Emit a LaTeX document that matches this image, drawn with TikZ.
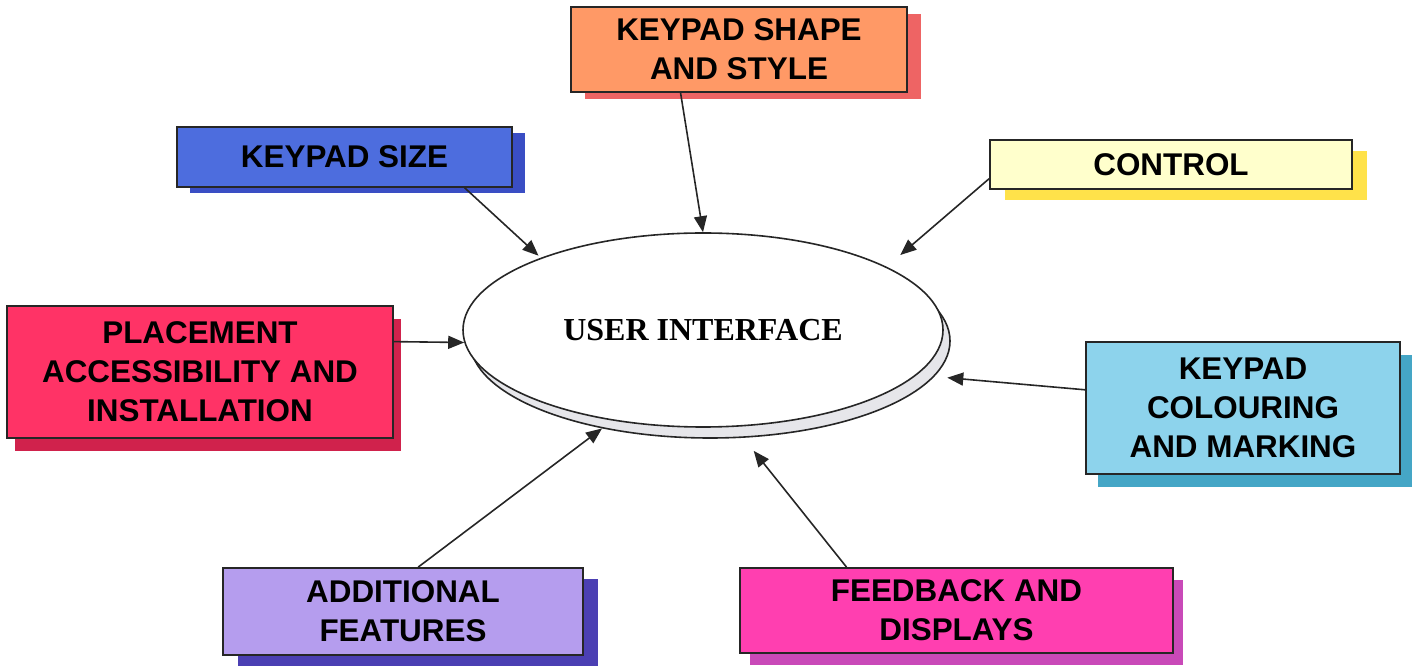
\documentclass[tikz,border=0pt]{standalone}
\usepackage{fontspec}
\setmainfont{Liberation Serif}
\newfontfamily\boxfont{Liberation Sans}
\usetikzlibrary{shapes.geometric,shadows,calc,arrows.meta}
\definecolor{cOrange}{HTML}{FF9966}
\definecolor{sOrange}{HTML}{EE6464}
\definecolor{cBlue}{HTML}{4D6DDE}
\definecolor{sBlue}{HTML}{3A4EC4}
\definecolor{cYellow}{HTML}{FFFFCC}
\definecolor{sYellow}{HTML}{FFE24A}
\definecolor{cRed}{HTML}{FF3366}
\definecolor{sRed}{HTML}{D0224C}
\definecolor{cCyan}{HTML}{8DD3EC}
\definecolor{sCyan}{HTML}{45A6C6}
\definecolor{cLav}{HTML}{B59DEE}
\definecolor{sLav}{HTML}{4B3FB3}
\definecolor{cPink}{HTML}{FF3FB0}
\definecolor{sPink}{HTML}{C949B8}
\definecolor{cDisc}{HTML}{E6E6EA}
\tikzset{
  card/.style={draw=black!85, line width=0.9pt, rectangle, inner sep=0pt, align=center,
    font=\boxfont\bfseries\fontsize{15.7}{19.5}\selectfont},
  arr/.style={draw=black!85, line width=0.8pt, -{Triangle[length=8pt,width=6.5pt]}},
  disc/.style={ellipse, draw=black!85, line width=0.8pt, inner sep=0pt,
    minimum width=240pt, minimum height=97pt}
}
\begin{document}
\begin{tikzpicture}[x=0.5pt,y=-0.5pt]
\useasboundingbox (0,0) rectangle (1418,667);
% central ellipse with its rim
\node[disc, fill=cDisc] (uis) at (710,341) {};
\node[disc, fill=white, font=\bfseries\fontsize{16}{20}\selectfont] (ui) at (703,330) {USER INTERFACE};
% boxes
\node[card, fill=cOrange, minimum width=168pt, minimum height=42.5pt,
  drop shadow={fill=sOrange, opacity=1, shadow xshift=7pt, shadow yshift=-3.5pt}]
  (shape) at (739,49.5) {KEYPAD SHAPE\\AND STYLE};
\node[card, fill=cBlue, minimum width=167.5pt, minimum height=30pt,
  drop shadow={fill=sBlue, opacity=1, shadow xshift=6.5pt, shadow yshift=-3pt}]
  (size) at (344.5,157) {KEYPAD SIZE};
\node[card, fill=cYellow, minimum width=181pt, minimum height=24.5pt,
  drop shadow={fill=sYellow, opacity=1, shadow xshift=7.5pt, shadow yshift=-5.5pt}]
  (ctl) at (1171,164.5) {CONTROL};
\node[card, fill=cRed, minimum width=193pt, minimum height=66pt,
  drop shadow={fill=sRed, opacity=1, shadow xshift=4pt, shadow yshift=-6.5pt}]
  (pl) at (200,372) {PLACEMENT\\ACCESSIBILITY AND\\INSTALLATION};
\node[card, fill=cCyan, minimum width=157pt, minimum height=66pt,
  drop shadow={fill=sCyan, opacity=1, shadow xshift=6pt, shadow yshift=-6.5pt}]
  (col) at (1243,408) {KEYPAD\\COLOURING\\AND MARKING};
\node[card, fill=cLav, minimum width=180pt, minimum height=43.5pt,
  drop shadow={fill=sLav, opacity=1, shadow xshift=7.5pt, shadow yshift=-5.5pt}]
  (add) at (403,611.5) {ADDITIONAL\\FEATURES};
\node[card, fill=cPink, minimum width=216.5pt, minimum height=42.5pt,
  drop shadow={fill=sPink, opacity=1, shadow xshift=5pt, shadow yshift=-6pt}]
  (fb) at (956.5,610.5) {FEEDBACK AND\\DISPLAYS};
% connectors
\draw[arr] ($(shape.south west)!0.327!(shape.south east)$) -- (ui.90);
\draw[arr, shorten >=1.5pt] ($(size.south west)!0.857!(size.south east)$) -- (ui.156.2);
\draw[arr, shorten >=9pt] ($(ctl.north west)!0.78!(ctl.south west)$) -- (ui.19.6);
\draw[arr] ($(pl.north east)!0.273!(pl.south east)$) -- (ui.183.3);
\draw[arr, shorten >=6.5pt] ($(col.north west)!0.364!(col.south west)$) -- (uis.-9.1);
\draw[arr] ($(add.north west)!0.542!(add.north east)$) -- (uis.219.6);
\draw[arr, shorten >=8.3pt] ($(fb.north west)!0.247!(fb.north east)$) -- (uis.-71.2);
\end{tikzpicture}
\end{document}
